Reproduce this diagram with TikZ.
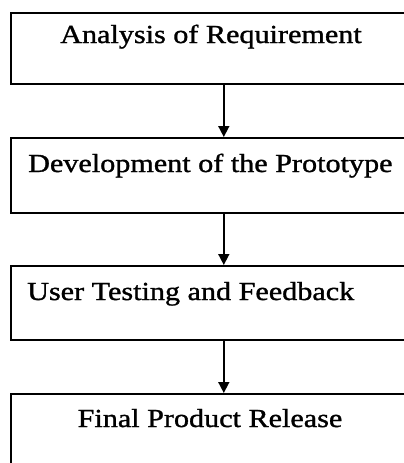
\documentclass[tikz,border=0pt]{standalone}
\usepackage{fontspec}
\setmainfont{Liberation Serif}[FakeStretch=1.16,FakeBold=1.2]
\usetikzlibrary{arrows.meta}
\tikzset{
  stepbox/.style={draw=black, line width=1.6pt, minimum width=426pt, inner sep=0pt, anchor=north west},
  steptext/.style={inner sep=0pt, font=\fontsize{26}{30}\selectfont},
  flow/.style={draw=black, line width=1.6pt, -{Triangle[width=11pt,length=11pt]}}
}
\begin{document}
\begin{tikzpicture}[x=1pt,y=-1pt]
  \useasboundingbox (0,0) rectangle (404,463);
  \clip (0,0) rectangle (404,463);
  % boxes (right and lower edges run past the frame)
  \node[stepbox, minimum height=71pt] (b1) at (10,12) {};
  \node[stepbox, minimum height=75pt] (b2) at (10,137) {};
  \node[stepbox, minimum height=74pt] (b3) at (10,265) {};
  \node[stepbox, minimum height=80pt] (b4) at (10,393) {};
  % labels
  \node[steptext, anchor=base] (t1) at (211,43) {Analysis of Requirement};
  \node[steptext, anchor=base west] (t2) at (28,172) {Development of the Prototype};
  \node[steptext, anchor=base west] (t3) at (27,300) {User Testing and Feedback};
  \node[steptext, anchor=base] (t4) at (210,427) {Final Product Release};
  % connectors
  \draw[flow] (b1.south) -- (b2.north);
  \draw[flow] (b2.south) -- (b3.north);
  \draw[flow] (b3.south) -- (b4.north);
\end{tikzpicture}
\end{document}
